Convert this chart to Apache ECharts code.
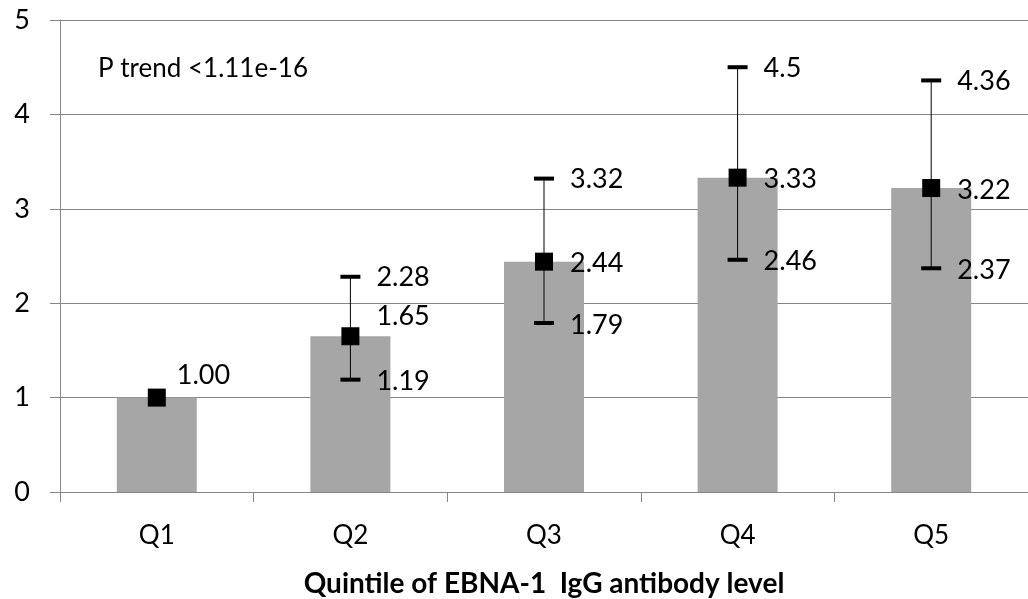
<!DOCTYPE html>
<html>
<head>
<meta charset="utf-8">
<script src="https://cdn.jsdelivr.net/npm/echarts@6/dist/echarts.min.js"></script>
<style>
  html, body { margin: 0; padding: 0; background: #fff; }
  #chart { width: 1028px; height: 599px; }
</style>
</head>
<body>
<div id="chart"></div>
<script>
const categories = ['Q1', 'Q2', 'Q3', 'Q4', 'Q5']
const means = [1.00, 1.65, 2.44, 3.33, 3.22]
const lowers = [null, 1.19, 1.79, 2.46, 2.37]
const uppers = [null, 2.28, 3.32, 4.5, 4.36]
const meanLabels = ['1.00', '1.65', '2.44', '3.33', '3.22']
const lowerLabels = ['', '1.19', '1.79', '2.46', '2.37']
const upperLabels = ['', '2.28', '3.32', '4.5', '4.36']
const yTicks = [0, 1, 2, 3, 4, 5]

const font = 'Lato, "Open Sans", sans-serif'
const chart = echarts.init(document.getElementById('chart'))

function renderErrorBar(params, api) {
  const i = api.value(0)
  const mid = api.coord([i, api.value(1)])
  const children = []
  const txt = (text, x, y) => ({
    type: 'text',
    style: { text, x, y, fill: '#000', font: '27px ' + font, textVerticalAlign: 'middle' }
  })
  let meanDy = 0
  if (lowers[i] != null) {
    const lo = api.coord([i, lowers[i]])
    const hi = api.coord([i, uppers[i]])
    children.push({ type: 'line', shape: { x1: mid[0], y1: hi[1], x2: mid[0], y2: lo[1] }, style: { stroke: '#000', lineWidth: 1 } })
    children.push({ type: 'rect', shape: { x: mid[0] - 10, y: hi[1] - 2, width: 20, height: 4 }, style: { fill: '#000' } })
    children.push({ type: 'rect', shape: { x: mid[0] - 10, y: lo[1] - 2, width: 20, height: 4 }, style: { fill: '#000' } })
    children.push(txt(upperLabels[i], mid[0] + 26, hi[1] + 1))
    children.push(txt(lowerLabels[i], mid[0] + 26, lo[1] + 2))
    if (lo[1] - mid[1] < 50) meanDy = -22
  } else {
    meanDy = -24
  }
  children.push(txt(meanLabels[i], mid[0] + (lowers[i] == null ? 20 : 26), mid[1] + meanDy + 2))
  return { type: 'group', children }
}

chart.setOption({
  animation: false,
  grid: { left: 60, right: 0, top: 20, bottom: 107, outerBoundsMode: 'none', containLabel: false },
  xAxis: {
    type: 'category',
    data: categories,
    axisLine: { lineStyle: { color: '#868686', width: 1 } },
    axisTick: { show: true, length: 10, lineStyle: { color: '#868686' } },
    axisLabel: { color: '#000', fontSize: 26, fontFamily: font, margin: 31 },
    name: 'Quintile of EBNA-1  IgG antibody level',
    nameLocation: 'middle',
    nameGap: 78,
    nameTextStyle: { color: '#000', fontSize: 28, fontWeight: 'bold', fontFamily: font }
  },
  yAxis: {
    type: 'value',
    min: yTicks[0],
    max: yTicks[yTicks.length - 1],
    interval: 1,
    axisLine: { show: true, lineStyle: { color: '#868686' } },
    axisTick: { show: true, length: 10, lineStyle: { color: '#868686' } },
    axisLabel: { color: '#000', fontSize: 27, fontFamily: font, margin: 30 },
    splitLine: { lineStyle: { color: '#868686', width: 1 } }
  },
  graphic: [{
    type: 'text',
    left: 98,
    top: 56,
    style: { text: 'P trend <1.11e-16', fill: '#000', font: '26px ' + font }
  }],
  series: [
    {
      type: 'bar',
      data: means,
      barWidth: 80,
      itemStyle: { color: '#a6a6a6' },
      z: 1
    },
    {
      type: 'custom',
      data: means.map((m, i) => [i, m]),
      renderItem: renderErrorBar,
      z: 3
    },
    {
      type: 'scatter',
      data: means,
      symbol: 'rect',
      symbolSize: 18,
      itemStyle: { color: '#000', opacity: 1 },
      z: 5
    }
  ]
})
window.addEventListener('resize', () => chart.resize())
</script>
</body>
</html>
